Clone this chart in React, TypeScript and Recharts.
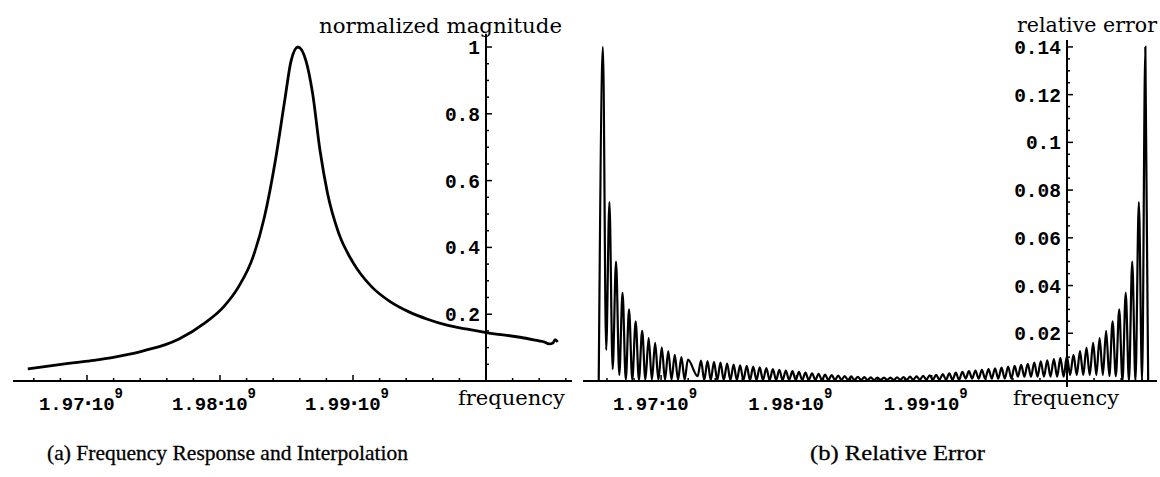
import React from 'react';
import { LineChart, Line, XAxis, YAxis, ReferenceLine, ReferenceDot } from 'recharts';

// ---------- (a) Frequency response (frequency in units of 10^9) ----------
const magFreq = [
  1.96555, 1.9675, 1.9691, 1.9705, 1.97188, 1.9733, 1.97456, 1.9759, 1.97692, 1.97887,
  1.98027, 1.98138, 1.98248, 1.98334, 1.98417, 1.98487, 1.98534, 1.98586, 1.98647, 1.98696,
  1.98752, 1.98808, 1.98892, 1.99003, 1.99143, 1.99282, 1.99421, 1.9956, 1.99699, 1.9986,
  2.00015, 2.00256, 2.00398, 2.00436, 2.00474, 2.00504, 2.0052, 2.00538,
];
const magValue = [
  0.036, 0.047, 0.055, 0.062, 0.07, 0.081, 0.094, 0.109, 0.126, 0.174,
  0.222, 0.281, 0.371, 0.491, 0.662, 0.841, 0.958, 1.0, 0.958, 0.862,
  0.69, 0.563, 0.443, 0.353, 0.281, 0.237, 0.207, 0.185, 0.168, 0.155,
  0.144, 0.131, 0.12, 0.117, 0.111, 0.114, 0.124, 0.117,
];

// ---------- (b) Relative error ----------
const errPeakFreq = [
  1.9657, 1.96618, 1.96667, 1.96715, 1.96763, 1.96812, 1.9686, 1.96908, 1.96956, 1.97005,
  1.97053, 1.97101, 1.9715, 1.97198,
  1.97295, 1.97343, 1.97391, 1.97439, 1.97488, 1.97536, 1.97584, 1.97633, 1.97681, 1.97729,
  1.97778, 1.97826, 1.97874, 1.97922, 1.97971, 1.98019, 1.98067, 1.98116, 1.98164, 1.98212,
  1.98261, 1.98309, 1.98357, 1.98405, 1.98454, 1.98502, 1.9855, 1.98599, 1.98647, 1.98695,
  1.98744, 1.98792, 1.9884, 1.98888, 1.98937, 1.98985, 1.99033, 1.99082, 1.9913, 1.99178,
  1.99227, 1.99275, 1.99323, 1.99371, 1.9942, 1.99468, 1.99516, 1.99565, 1.99613, 1.99661,
  1.9971, 1.99758, 1.99806, 1.99854, 1.99903, 1.99951, 1.99999, 2.00048, 2.00096, 2.00144,
  2.00193, 2.00241, 2.00289, 2.00337, 2.00386, 2.00434, 2.00482, 2.00531, 2.00579,
];
const errPeakValue = [
  0.14, 0.075, 0.05, 0.037, 0.03, 0.025, 0.021, 0.018, 0.016, 0.014,
  0.0125, 0.011, 0.01, 0.009,
  0.0086, 0.0083, 0.008, 0.0077, 0.0073, 0.0069, 0.0066, 0.0063, 0.006, 0.0057,
  0.0054, 0.005, 0.0047, 0.0044, 0.0041, 0.0038, 0.0035, 0.0032, 0.003, 0.0027,
  0.0025, 0.0023, 0.0021, 0.0019, 0.0017, 0.0016, 0.0015, 0.0014, 0.0014, 0.0014,
  0.0015, 0.0016, 0.0018, 0.002, 0.0022, 0.0024, 0.0026, 0.0029, 0.0032, 0.0035,
  0.0038, 0.0041, 0.0044, 0.0047, 0.005, 0.0053, 0.0056, 0.006, 0.0064, 0.0068,
  0.0072, 0.0077, 0.0082, 0.0087, 0.0092, 0.0097, 0.0103, 0.011, 0.0125, 0.014,
  0.016, 0.018, 0.021, 0.025, 0.03, 0.037, 0.05, 0.075, 0.14,
];
const errTroughFreq = [
  1.96594, 1.96642, 1.96691, 1.96739, 1.96787, 1.96836, 1.96884, 1.96932, 1.9698, 1.97029,
  1.97077, 1.97125, 1.97174,
  1.9727, 1.97319, 1.97367, 1.97415, 1.97463, 1.97512, 1.9756, 1.97608, 1.97657, 1.97705,
  1.97753, 1.97802, 1.9785, 1.97898, 1.97946, 1.97995, 1.98043, 1.98091, 1.9814, 1.98188,
  1.98236, 1.98285, 1.98333, 1.98381, 1.98429, 1.98478, 1.98526, 1.98574, 1.98623, 1.98671,
  1.98719, 1.98768, 1.98816, 1.98864, 1.98912, 1.98961, 1.99009, 1.99057, 1.99106, 1.99154,
  1.99202, 1.99251, 1.99299, 1.99347, 1.99395, 1.99444, 1.99492, 1.9954, 1.99589, 1.99637,
  1.99685, 1.99734, 1.99782, 1.9983, 1.99878, 1.99927, 1.99975, 2.00023, 2.00072, 2.0012,
  2.00168, 2.00217, 2.00265, 2.00313, 2.00361, 2.0041, 2.00458, 2.00506, 2.00555,
];
const errTroughValue = [
  0.013, 0.005, 0.0025, 0.0005, 0.0005, 0.0005, 0.0005, 0.0005, 0.0005, 0.0005,
  0.0005, 0.0005, 0.0005,
  0.002, 0.0004, 0.0004, 0.0004, 0.0004, 0.0004, 0.0004, 0.0004, 0.0004, 0.0004,
  0.0004, 0.0004, 0.0004, 0.0004, 0.0004, 0.0004, 0.0004, 0.0004, 0.0004, 0.0004,
  0.0004, 0.0004, 0.0004, 0.0004, 0.0004, 0.0004, 0.0004, 0.0004, 0.0004, 0.0004,
  0.0004, 0.0005, 0.0005, 0.0005, 0.0005, 0.0005, 0.0005, 0.0005, 0.0005, 0.0005,
  0.0005, 0.001, 0.001, 0.001, 0.001, 0.001, 0.001, 0.001, 0.001, 0.0018,
  0.0018, 0.0018, 0.0018, 0.0018, 0.0018, 0.0018, 0.0018, 0.0025, 0.0025, 0.0025,
  0.0025, 0.0025, 0.0025, 0.002, 0.002, 0, 0, 0, 0,
];
const errEdgeFreq = [1.96539, 2.006];
const errEdgeValue = [0, 0];

// ---------- axes ----------
const xMajorTicks = [1.97, 1.98, 1.99, 2.0];
const xMajorLabels = ['1.97', '1.98', '1.99', ''];
const xMinorTicks = [
  1.966, 1.968, 1.972, 1.974, 1.976, 1.978, 1.982, 1.984, 1.986, 1.988,
  1.992, 1.994, 1.996, 1.998, 2.002, 2.004, 2.006,
];
const yAxisAt = 2.0;

const magYTicks = [0.2, 0.4, 0.6, 0.8, 1];
const magYLabels = ['0.2', '0.4', '0.6', '0.8', '1'];
const magYMinor = [0.05, 0.1, 0.15, 0.25, 0.3, 0.35, 0.45, 0.5, 0.55, 0.65, 0.7, 0.75, 0.85, 0.9, 0.95];

const errYTicks = [0.02, 0.04, 0.06, 0.08, 0.1, 0.12, 0.14];
const errYLabels = ['0.02', '0.04', '0.06', '0.08', '0.1', '0.12', '0.14'];
const errYMinor = [
  0.005, 0.01, 0.015, 0.025, 0.03, 0.035, 0.045, 0.05, 0.055, 0.065, 0.07,
  0.075, 0.085, 0.09, 0.095, 0.105, 0.11, 0.115, 0.125, 0.13, 0.135,
];

const magData = magFreq.map((f, i) => ({ f, v: magValue[i] }));
const errData = [
  ...errEdgeFreq.map((f, i) => ({ f, v: errEdgeValue[i] })),
  ...errPeakFreq.map((f, i) => ({ f, v: errPeakValue[i] })),
  ...errTroughFreq.map((f, i) => ({ f, v: errTroughValue[i] })),
].sort((a, b) => a.f - b.f);

const allXTicks = [...xMajorTicks, ...xMinorTicks].sort((a, b) => a - b);

const MONO = '"Liberation Mono", "DejaVu Sans Mono", monospace';
const SERIF_W = '"DejaVu Serif", serif';
const SERIF_T = '"Liberation Serif", "Times New Roman", serif';

const XTick = (props: any) => {
  const { x, y, payload } = props;
  const v = payload.value;
  const idx = xMajorTicks.findIndex((t) => Math.abs(t - v) < 1e-9);
  const major = idx >= 0;
  return (
    <g>
      <line x1={x} x2={x} y1={y} y2={y - (major ? 6 : 3)} stroke="#000" strokeWidth={1.5} />
      {major && xMajorLabels[idx] ? (
        <text x={x - 6} y={y + 29} textAnchor="middle" fontFamily={MONO} fontWeight="bold" fontSize={19} fill="#000">
          {xMajorLabels[idx]}
          <tspan fontFamily='"DejaVu Sans", sans-serif'>·</tspan>
          10
          <tspan fontSize={14} dy={-12}>9</tspan>
        </text>
      ) : null}
    </g>
  );
};

const YTick = (props: any) => {
  const { viewBox, text, len } = props;
  if (!viewBox) return null;
  const cx = viewBox.x + (viewBox.width || 0) / 2;
  const cy = viewBox.y + (viewBox.height || 0) / 2;
  return (
    <g>
      <line x1={cx} x2={cx + len} y1={cy} y2={cy} stroke="#000" strokeWidth={1.5} />
      {text ? (
        <text x={cx - 6} y={cy} dy="0.36em" textAnchor="end" fontFamily={MONO} fontWeight="bold" fontSize={19.5} fill="#000">
          {text}
        </text>
      ) : null}
    </g>
  );
};

const MagChart = () => (
  <LineChart width={580} height={477} data={magData} margin={{ top: 40, right: 8, bottom: 56, left: 13 }}>
    <XAxis
      dataKey="f"
      type="number"
      domain={[1.964436, 2.006466]}
      allowDataOverflow
      ticks={allXTicks}
      interval={0}
      tick={<XTick />}
      tickLine={false}
      tickSize={0}
      tickMargin={0}
      height={40}
      axisLine={{ stroke: '#000', strokeWidth: 2 }}
    />
    <YAxis type="number" domain={[0, 1.021]} allowDataOverflow hide />
    <ReferenceLine
      segment={[{ x: yAxisAt, y: 0 }, { x: yAxisAt, y: 1.04 }]}
      stroke="#000"
      strokeWidth={2}
      ifOverflow="visible"
    />
    {magYMinor.map((v, i) => (
      <ReferenceDot key={'mm' + i} x={yAxisAt} y={v} r={1} fill="none" stroke="none" label={<YTick len={3} />} />
    ))}
    {magYTicks.map((v, i) => (
      <ReferenceDot key={'mj' + i} x={yAxisAt} y={v} r={1} fill="none" stroke="none" label={<YTick len={6} text={magYLabels[i]} />} />
    ))}
    <Line dataKey="v" type="monotone" stroke="#000" strokeWidth={2.8} dot={false} isAnimationActive={false} />
  </LineChart>
);

const ErrChart = () => (
  <LineChart width={580} height={477} data={errData} margin={{ top: 40, right: 3, bottom: 56, left: 3 }}>
    <XAxis
      dataKey="f"
      type="number"
      domain={[1.964228, 2.006652]}
      allowDataOverflow
      ticks={allXTicks}
      interval={0}
      tick={<XTick />}
      tickLine={false}
      tickSize={0}
      tickMargin={0}
      height={40}
      axisLine={{ stroke: '#000', strokeWidth: 2 }}
    />
    <YAxis type="number" domain={[0, 0.1429]} allowDataOverflow hide />
    <ReferenceLine
      segment={[{ x: yAxisAt, y: -0.0025 }, { x: yAxisAt, y: 0.1429 }]}
      stroke="#000"
      strokeWidth={2}
      ifOverflow="visible"
    />
    {errYMinor.map((v, i) => (
      <ReferenceDot key={'em' + i} x={yAxisAt} y={v} r={1} fill="none" stroke="none" label={<YTick len={3} />} />
    ))}
    {errYTicks.map((v, i) => (
      <ReferenceDot key={'ej' + i} x={yAxisAt} y={v} r={1} fill="none" stroke="none" label={<YTick len={6} text={errYLabels[i]} />} />
    ))}
    <Line dataKey="v" type="monotone" stroke="#000" strokeWidth={2.2} dot={false} isAnimationActive={false} />
  </LineChart>
);

export default function App() {
  return (
    <div style={{ position: 'absolute', left: 0, top: 0, width: 1160, height: 477, background: '#fff', overflow: 'hidden' }}>
      <div style={{ position: 'absolute', left: 0, top: 0 }}>
        <MagChart />
      </div>
      <div style={{ position: 'absolute', left: 580, top: 0 }}>
        <ErrChart />
      </div>
      <svg width={1160} height={477} style={{ position: 'absolute', left: 0, top: 0, pointerEvents: 'none' }}>
        <text x={319} y={33} fontFamily={SERIF_W} fontSize={21} textLength={243} lengthAdjust="spacingAndGlyphs" fill="#000">
          normalized magnitude
        </text>
        <text x={1017} y={32} fontFamily={SERIF_W} fontSize={21} textLength={140} lengthAdjust="spacingAndGlyphs" fill="#000">
          relative error
        </text>
        <text x={458} y={405} fontFamily={SERIF_W} fontSize={21} textLength={107} lengthAdjust="spacingAndGlyphs" fill="#000">
          frequency
        </text>
        <text x={1013} y={405} fontFamily={SERIF_W} fontSize={21} textLength={106} lengthAdjust="spacingAndGlyphs" fill="#000">
          frequency
        </text>
        <text x={47} y={460} fontFamily={SERIF_T} fontSize={21.5} textLength={361} lengthAdjust="spacingAndGlyphs" fill="#000" stroke="#000" strokeWidth={0.3}>
          (a) Frequency Response and Interpolation
        </text>
        <text x={810} y={460} fontFamily={SERIF_T} fontSize={21.5} textLength={175} lengthAdjust="spacingAndGlyphs" fill="#000" stroke="#000" strokeWidth={0.3}>
          (b) Relative Error
        </text>
      </svg>
    </div>
  );
}
